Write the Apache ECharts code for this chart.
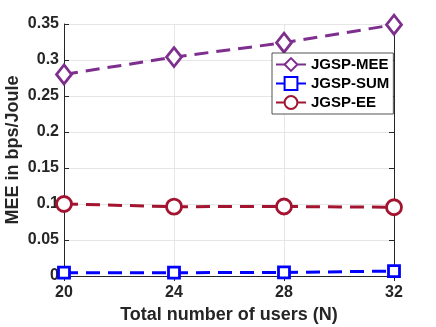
<!DOCTYPE html>
<html>
<head>
<meta charset="utf-8">
<script src="https://cdn.jsdelivr.net/npm/echarts@6/dist/echarts.min.js"></script>
<style>
  html, body { margin: 0; padding: 0; background: #fff; }
  #chart { width: 436px; height: 327px; }
</style>
</head>
<body>
<div id="chart"></div>
<script>
// number of users on x axis
var users = [20, 24, 28, 32]
// series values
var meeVals = [0.280, 0.304, 0.324, 0.349]
var sumVals = [0.0046, 0.0046, 0.0050, 0.0068]
var eeVals = [0.1000, 0.0963, 0.0965, 0.0955]
var seriesNames = ['JGSP-MEE', 'JGSP-SUM', 'JGSP-EE']

var font = 'Liberation Sans, Arial, Helvetica, sans-serif'

function pairs(vals) {
    return users.map(function (u, i) { return [u, vals[i]] })
}

function lineSeries(name, vals, color, symbol, size) {
    return {
        name: name,
        type: 'line',
        data: pairs(vals),
        symbol: symbol,
        symbolSize: size,
        showAllSymbol: true,
        animation: false,
        lineStyle: { color: color, width: 3, type: [14, 8] },
        itemStyle: { color: '#fff', borderColor: color, borderWidth: 2.8 },
        z: 3,
    }
}

var chart = echarts.init(document.getElementById('chart'), null, { renderer: 'canvas' })

var axisLine = { show: true, lineStyle: { color: '#262626', width: 1 } }
var tickIn = { show: true, inside: true, length: 5, lineStyle: { color: '#262626' } }

chart.setOption({
    backgroundColor: '#fff',
    grid: { left: 64, right: 42, top: 24, bottom: 51, containLabel: false, outerBoundsMode: 'none' },
    legend: {
        orient: 'vertical',
        left: 272,
        top: 53,
        itemWidth: 30,
        itemHeight: 16,
        itemGap: 4,
        padding: [4, 4, 4, 3],
        borderColor: '#262626',
        borderWidth: 0.8,
        backgroundColor: '#fff',
        data: seriesNames,
        textStyle: { fontFamily: font, fontWeight: 'bold', fontSize: 15, color: '#000' },
    },
    xAxis: [
        {
            type: 'value',
            min: 20,
            max: 32,
            interval: 4,
            position: 'bottom',
            name: 'Total number of users (N)',
            nameLocation: 'middle',
            nameGap: 30,
            nameMoveOverlap: false,
            nameTextStyle: { fontFamily: font, fontWeight: 'bold', fontSize: 18, color: '#262626' },
            axisLine: axisLine,
            axisTick: tickIn,
            axisLabel: { fontFamily: font, fontWeight: 'bold', fontSize: 16, color: '#262626', margin: 9 },
            splitLine: { show: true, lineStyle: { color: '#e6e6e6', width: 1 } },
        },
        {
            type: 'value',
            min: 20,
            max: 32,
            interval: 4,
            position: 'top',
            axisLine: axisLine,
            axisTick: tickIn,
            axisLabel: { show: false },
            splitLine: { show: false },
        },
    ],
    yAxis: [
        {
            type: 'value',
            min: 0,
            max: 0.35,
            interval: 0.05,
            position: 'left',
            name: 'MEE in bps/Joule',
            nameLocation: 'middle',
            nameGap: 42,
            nameMoveOverlap: false,
            nameTextStyle: { fontFamily: font, fontWeight: 'bold', fontSize: 18, color: '#262626' },
            axisLine: axisLine,
            axisTick: tickIn,
            axisLabel: {
                fontFamily: font, fontWeight: 'bold', fontSize: 16, color: '#262626', margin: 5,
                formatter: function (v) { return String(+v.toFixed(2)) },
            },
            splitLine: { show: true, lineStyle: { color: '#e6e6e6', width: 1 } },
        },
        {
            type: 'value',
            min: 0,
            max: 0.35,
            interval: 0.05,
            position: 'right',
            axisLine: axisLine,
            axisTick: tickIn,
            axisLabel: { show: false },
            splitLine: { show: false },
        },
    ],
    series: [
        lineSeries(seriesNames[0], meeVals, '#7E2F8E', 'diamond', [15, 19]),
        lineSeries(seriesNames[1], sumVals, '#0000FF', 'rect', 11),
        lineSeries(seriesNames[2], eeVals, '#A2142F', 'circle', 15),
    ],
})
</script>
</body>
</html>
